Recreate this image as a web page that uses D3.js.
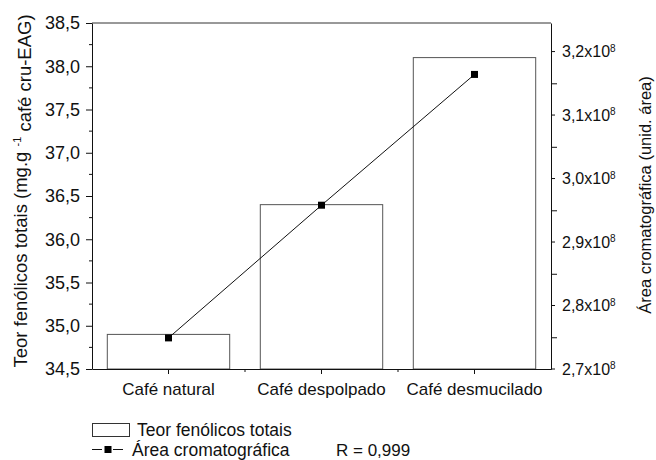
<!DOCTYPE html>
<html>
<head>
<meta charset="utf-8">
<script src="https://cdn.jsdelivr.net/npm/d3@7"></script>
<style>
  body { margin: 0; background: #fff; }
  svg { display: block; font-family: 'Liberation Sans', Arial, sans-serif; }
  .axis path, .axis line { stroke: #111; }
</style>
</head>
<body>
<svg class="chartSVG" width="656" height="460"></svg>
<script>
// data
const categories = ['Café natural', 'Café despolpado', 'Café desmucilado'];
const fenolicos = [34.9, 36.4, 38.1];          // mg.g-1 (left axis)
const areaCrom = [2.749e8, 2.958e8, 3.164e8];  // unid. área (right axis)
const leftTicks = [34.5, 35.0, 35.5, 36.0, 36.5, 37.0, 37.5, 38.0, 38.5];
const leftMinor = [34.75, 35.25, 35.75, 36.25, 36.75, 37.25, 37.75, 38.25];
const rightTicks = [2.7e8, 2.8e8, 2.9e8, 3.0e8, 3.1e8, 3.2e8];
const rightMinor = [2.75e8, 2.85e8, 2.95e8, 3.05e8, 3.15e8];

const margin = {left: 92, right: 551, top: 23, bottom: 369};
const svg = d3.select('svg.chartSVG');

const x = d3.scaleBand()
  .domain(categories)
  .range([margin.left, margin.right])
  .paddingInner(0.2)
  .paddingOuter(0.1);

const yL = d3.scaleLinear().domain([34.5, 38.5]).range([margin.bottom, margin.top]);
const yR = d3.scaleLinear().domain([2.7e8, 3.245e8]).range([margin.bottom, margin.top]);

const comma = d => d3.format('.1f')(d).replace('.', ',');

// bars
svg.append('g').selectAll('rect')
  .data(categories)
  .enter()
  .append('rect')
  .attr('x', d => x(d))
  .attr('y', (d, i) => yL(fenolicos[i]))
  .attr('width', x.bandwidth())
  .attr('height', (d, i) => yL(34.5) - yL(fenolicos[i]))
  .style('fill', '#fff')
  .style('stroke', '#555')
  .style('stroke-width', 1);

// top frame line
svg.append('line')
  .attr('x1', margin.left).attr('x2', margin.right)
  .attr('y1', margin.top).attr('y2', margin.top)
  .style('stroke', '#333');

// left axis
const leftAxis = svg.append('g').attr('class', 'axis')
  .attr('transform', `translate(${margin.left},0)`)
  .call(d3.axisLeft(yL).tickValues(leftTicks).tickFormat(comma).tickSize(6).tickSizeOuter(0).tickPadding(6));
leftAxis.selectAll('text').style('font-size', '18px').style('fill', '#111').style('font-family', null);
leftAxis.selectAll('line.minor')
  .data(leftMinor)
  .enter()
  .append('line')
  .attr('class', 'minor')
  .attr('x1', -3).attr('x2', 0)
  .attr('y1', d => yL(d)).attr('y2', d => yL(d))
  .style('stroke', '#111');

// right axis
const rightAxis = svg.append('g').attr('class', 'axis')
  .attr('transform', `translate(${margin.right},0)`)
  .call(d3.axisRight(yR).tickValues(rightMinor).tickFormat('').tickSize(6).tickSizeOuter(0));
const rTicks = rightAxis.selectAll('g.rtick')
  .data(rightTicks)
  .enter()
  .append('g')
  .attr('class', 'rtick')
  .attr('transform', d => `translate(0,${yR(d)})`);
rTicks.append('line').attr('x2', 4).style('stroke', '#111');
const rText = rTicks.append('text')
  .attr('x', 11)
  .attr('dy', '0.36em')
  .style('font-size', '16px')
  .style('fill', '#111')
  .style('font-family', null)
  .attr('text-anchor', 'start');
rText.append('tspan').text(d => comma(d / 1e8) + 'x10');
rText.append('tspan').attr('dy', '-0.55em').style('font-size', '10px').text('8');

// bottom axis
const bottomAxis = svg.append('g').attr('class', 'axis')
  .attr('transform', `translate(0,${margin.bottom})`)
  .call(d3.axisBottom(x).tickSize(5).tickSizeOuter(0).tickPadding(9));
bottomAxis.selectAll('text').style('font-size', '17px').style('fill', '#111').style('font-family', null);
bottomAxis.selectAll('line.minor')
  .data([x(categories[1]) - x.step() * 0.1, x(categories[2]) - x.step() * 0.1])
  .enter()
  .append('line')
  .attr('class', 'minor')
  .attr('x1', d => d).attr('x2', d => d)
  .attr('y1', 0).attr('y2', 3)
  .style('stroke', '#111');

// line of areas
const line = d3.line()
  .x((d, i) => x(categories[i]) + x.bandwidth() / 2)
  .y(d => yR(d));

svg.append('path')
  .datum(areaCrom)
  .attr('d', line)
  .style('fill', 'none')
  .style('stroke', '#111')
  .style('stroke-width', 1);

svg.append('g').selectAll('rect')
  .data(areaCrom)
  .enter()
  .append('rect')
  .attr('x', (d, i) => x(categories[i]) + x.bandwidth() / 2 - 3.5)
  .attr('y', d => yR(d) - 3.5)
  .attr('width', 7)
  .attr('height', 7)
  .style('fill', '#000');

// axis titles
const leftTitle = svg.append('text')
  .attr('transform', `translate(27,191) rotate(-90)`)
  .attr('text-anchor', 'middle')
  .style('font-size', '18.5px')
  .style('fill', '#111');
leftTitle.append('tspan').text('Teor fenólicos totais (mg.g ');
leftTitle.append('tspan').attr('dy', '-0.55em').style('font-size', '11px').text('-1');
leftTitle.append('tspan').attr('dy', '0.55em').text('  café cru-EAG)');

svg.append('text')
  .attr('transform', `translate(651,195) rotate(-90)`)
  .attr('text-anchor', 'middle')
  .style('font-size', '16.5px')
  .style('fill', '#111')
  .text('Área cromatográfica (unid. área)');

// legend
const legend = svg.append('g').attr('class', 'legend');
legend.append('rect')
  .attr('x', 92.5).attr('y', 423.5)
  .attr('width', 37).attr('height', 13)
  .style('fill', '#fff')
  .style('stroke', '#333');
legend.append('text')
  .attr('x', 137).attr('y', 436)
  .style('font-size', '17.5px').style('fill', '#111')
  .text('Teor fenólicos totais');

legend.append('line')
  .attr('x1', 92).attr('x2', 102).attr('y1', 449.5).attr('y2', 449.5)
  .style('stroke', '#111');
legend.append('line')
  .attr('x1', 113).attr('x2', 123).attr('y1', 449.5).attr('y2', 449.5)
  .style('stroke', '#111');
legend.append('rect')
  .attr('x', 104.5).attr('y', 446).attr('width', 7).attr('height', 7)
  .style('fill', '#000');
legend.append('text')
  .attr('x', 132).attr('y', 456)
  .style('font-size', '17.5px').style('fill', '#111')
  .text('Área cromatográfica');
legend.append('text')
  .attr('x', 336).attr('y', 456)
  .style('font-size', '17px').style('fill', '#111')
  .text('R = 0,999');
</script>
</body>
</html>
